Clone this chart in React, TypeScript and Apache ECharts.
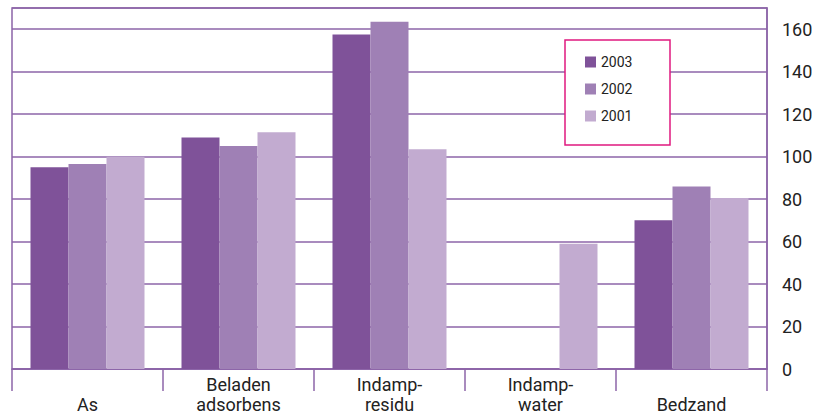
import React, { useEffect, useRef } from "react";
import * as echarts from "echarts";

const categories = ["\nAs", "Beladen\nadsorbens", "Indamp-\nresidu", "Indamp-\nwater", "\nBedzand"];
const seriesNames = ["2003", "2002", "2001"];
const values2003 = [95, 109, 157.5, null, 70];
const values2002 = [96.5, 105, 163.5, null, 86];
const values2001 = [100, 111.5, 103.5, 59, 80.5];
const colors = ["#7f5299", "#9f80b5", "#c2abd0"];
const yTicks = [0, 20, 40, 60, 80, 100, 120, 140, 160];

const FONT = "'Roboto', 'Noto Sans', sans-serif";

export default function App() {
  const ref = useRef<HTMLDivElement>(null);
  useEffect(() => {
    if (!ref.current) return;
    const chart = echarts.init(ref.current, null, { renderer: "svg" });
    const data = [values2003, values2002, values2001];
    chart.setOption({
      animation: false,
      backgroundColor: "#ffffff",
      grid: {
        left: 12,
        right: 62,
        top: 8,
        bottom: 51,
        show: true,
        borderColor: "#8c64a8",
        borderWidth: 1.5,
        containLabel: false,
      },
      legend: {
        orient: "vertical",
        left: 580,
        top: 50,
        z: 10,
        itemWidth: 11,
        itemHeight: 11,
        itemGap: 13,
        icon: "rect",
        data: seriesNames,
        textStyle: { fontFamily: FONT, fontSize: 14, color: "#222" },
      },
      graphic: [
        {
          type: "rect",
          z: 3,
          shape: { x: 565, y: 40, width: 105, height: 105 },
          style: { fill: "#ffffff", stroke: "#e0197f", lineWidth: 1.5 },
        },
      ],
      xAxis: {
        type: "category",
        data: categories,
        axisLine: { lineStyle: { color: "#8c64a8", width: 1.5 } },
        axisTick: { show: true, length: 22, interval: 0, lineStyle: { color: "#8c64a8", width: 1.5 } },
        axisLabel: {
          interval: 0,
          margin: 5,
          fontFamily: FONT,
          fontSize: 18,
          lineHeight: 20,
          color: "#222",
        },
      },
      yAxis: {
        type: "value",
        position: "right",
        min: 0,
        max: 170,
        interval: 20,
        axisLine: { show: true, lineStyle: { color: "#8c64a8", width: 1.5 } },
        axisTick: { show: false },
        splitLine: { show: true, lineStyle: { color: "#8c64a8", width: 1.5 } },
        axisLabel: {
          margin: 15,
          fontFamily: FONT,
          fontSize: 18,
          color: "#222",
          formatter: (v: number) => (yTicks.includes(v) ? String(v) : ""),
        },
      },
      series: seriesNames.map((name, i) => ({
        name,
        type: "bar",
        data: data[i],
        barGap: "0%",
        barCategoryGap: "24.5%",
        itemStyle: { color: colors[i] },
      })),
    });
    return () => chart.dispose();
  }, []);
  return <div ref={ref} style={{ width: 829, height: 420, position: "absolute", left: 0, top: 0 }} />;
}
